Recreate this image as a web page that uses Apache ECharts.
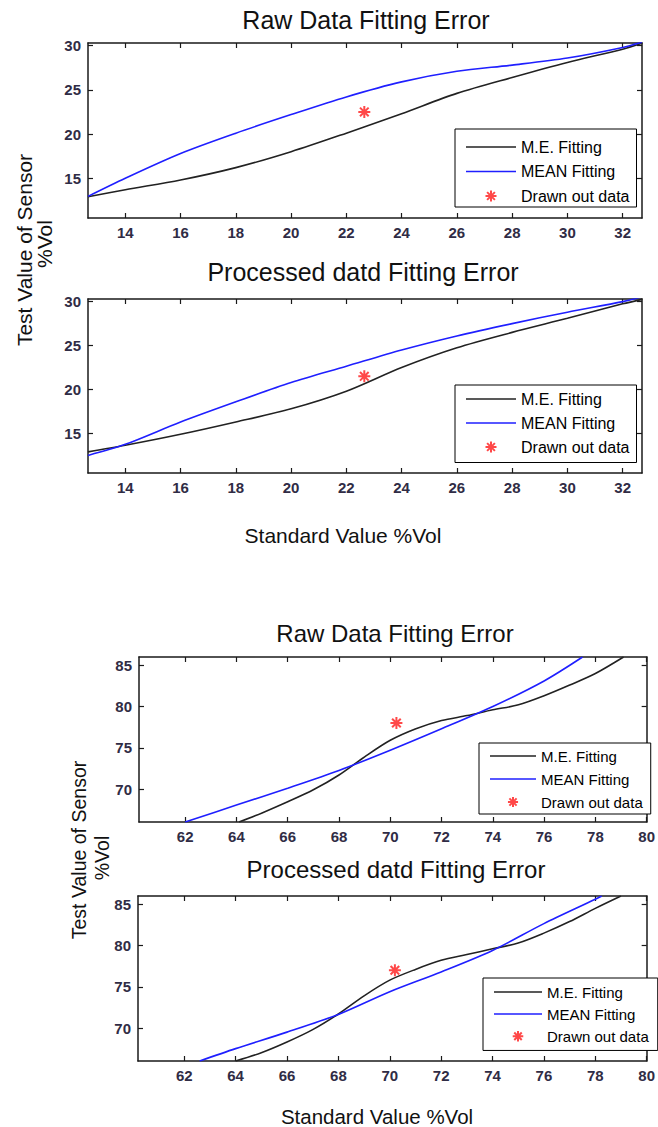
<!DOCTYPE html>
<html><head><meta charset="utf-8">
<script src="https://cdn.jsdelivr.net/npm/echarts@6/dist/echarts.min.js"></script>
<style>html,body{margin:0;padding:0;background:#fff}#c{width:658px;height:1127px}</style>
</head><body><div id="c"></div>
<script>
// ---- tick labels ----
const xTicksTop = [14, 16, 18, 20, 22, 24, 26, 28, 30, 32];
const yTicksTop = [15, 20, 25, 30];
const xTicksBottom = [62, 64, 66, 68, 70, 72, 74, 76, 78, 80];
const yTicksBottom = [70, 75, 80, 85];

// ---- series names ----
const seriesNames = ['M.E. Fitting', 'MEAN Fitting', 'Drawn out data'];

// ---- panel 1: Raw Data Fitting Error (upper) ----
const p1X = [12.65, 14, 16, 18, 20, 22, 24, 26, 28, 30, 32, 32.7];
const p1ME = [12.9, 13.7, 14.8, 16.2, 18.0, 20.1, 22.3, 24.6, 26.4, 28.1, 29.6, 30.26];
const p1MEAN = [12.95, 15.0, 17.8, 20.1, 22.2, 24.2, 25.9, 27.1, 27.8, 28.6, 29.8, 30.4];
const p1Drawn = [22.65, 22.5];

// ---- panel 2: Processed datd Fitting Error (upper) ----
const p2X = [12.65, 14, 16, 18, 20, 22, 24, 26, 28, 30, 32, 32.7];
const p2ME = [12.9, 13.65, 14.9, 16.3, 17.8, 19.8, 22.5, 24.75, 26.5, 28.1, 29.75, 30.26];
const p2MEAN = [12.5, 13.76, 16.3, 18.6, 20.8, 22.65, 24.5, 26.1, 27.5, 28.8, 30.0, 30.55];
const p2Drawn = [22.65, 21.5];

// ---- panel 3: Raw Data Fitting Error (lower) ----
const p3MEX = [64.1, 65, 66, 67, 68, 69, 70, 71, 72, 73, 74, 75, 76, 77, 78, 79.1];
const p3ME = [66.0, 67.1, 68.45, 69.9, 71.7, 73.9, 75.9, 77.3, 78.3, 78.9, 79.6, 80.2, 81.3, 82.6, 84.0, 86.0];
const p3MEANX = [62, 64, 66, 68, 70, 72, 74, 76, 77.5];
const p3MEAN = [66.0, 68.05, 70.1, 72.25, 74.7, 77.3, 80.0, 83.1, 86.0];
const p3Drawn = [70.24, 78.0];

// ---- panel 4: Processed datd Fitting Error (lower) ----
const p4MEX = [64.0, 65, 66, 67, 68, 69, 70, 71, 72, 73, 74, 75, 76, 77, 78, 79];
const p4ME = [66.0, 67.0, 68.3, 69.8, 71.7, 73.9, 75.8, 77.1, 78.2, 78.9, 79.6, 80.3, 81.5, 82.9, 84.5, 86.0];
const p4MEANX = [62.6, 64, 66, 68, 70, 72, 74, 76, 78, 78.25];
const p4MEAN = [66.0, 67.5, 69.5, 71.65, 74.4, 76.8, 79.4, 82.65, 85.6, 86.0];
const p4Drawn = [70.2, 77.0];

function pairs(xs, ys) { return xs.map((x, i) => [x, ys[i]]); }

const FONT = '"Liberation Sans", Arial, sans-serif';
const AXC = '#1a1a1a';
const ME_COLOR = '#222222';
const MEAN_COLOR = '#1f1fff';
const RED = '#ff1a1a';
const STAR = 'path://M0,-5L0,5M-5,0L5,0M-3.6,-3.6L3.6,3.6M-3.6,3.6L3.6,-3.6';
const STAR_ICON = 'path://M0,0M50,14M25,1.5L25,12.5M19.5,7L30.5,7M21.1,3.1L28.9,10.9M21.1,10.9L28.9,3.1';
const LINE_ICON = 'path://M0,0M50,14M0,7L50,7';

const grids = [
  { left: 88, top: 43, width: 554, height: 175 },
  { left: 88, top: 299, width: 554, height: 174 },
  { left: 139, top: 657, width: 513, height: 165 },
  { left: 138, top: 896, width: 514, height: 165 }
];
const ranges = [
  { x: [12.65, 32.7], y: [10.5, 30.3], xt: xTicksTop, yt: yTicksTop },
  { x: [12.65, 32.7], y: [10.5, 30.3], xt: xTicksTop, yt: yTicksTop },
  { x: [60.2, 80], y: [66, 86], xt: xTicksBottom, yt: yTicksBottom },
  { x: [60.2, 80], y: [66, 86], xt: xTicksBottom, yt: yTicksBottom }
];

function axis(g, range, ticks, pos, labels) {
  return {
    type: 'value', gridIndex: g, min: range[0], max: range[1], position: pos,
    axisLine: { show: true, onZero: false, lineStyle: { color: AXC, width: 1.5 } },
    axisTick: { show: true, inside: true, length: 5, customValues: ticks, lineStyle: { color: AXC, width: 1.2 } },
    axisLabel: { show: labels, customValues: ticks, margin: 7, fontSize: 15, fontWeight: 'bold', fontFamily: FONT, color: '#302c45' },
    splitLine: { show: false }
  };
}
const xAxes = [], yAxes = [];
ranges.forEach((r, g) => {
  xAxes.push(axis(g, r.x, r.xt, 'bottom', true));
  xAxes.push(axis(g, r.x, r.xt, 'top', false));
  yAxes.push(axis(g, r.y, r.yt, 'left', true));
  yAxes.push(axis(g, r.y, r.yt, 'right', false));
});

const panelData = [
  { me: pairs(p1X, p1ME), mean: pairs(p1X, p1MEAN), drawn: p1Drawn },
  { me: pairs(p2X, p2ME), mean: pairs(p2X, p2MEAN), drawn: p2Drawn },
  { me: pairs(p3MEX, p3ME), mean: pairs(p3MEANX, p3MEAN), drawn: p3Drawn },
  { me: pairs(p4MEX, p4ME), mean: pairs(p4MEANX, p4MEAN), drawn: p4Drawn }
];
const series = [];
panelData.forEach((p, g) => {
  series.push({ type: 'line', name: seriesNames[0], xAxisIndex: 2 * g, yAxisIndex: 2 * g, data: p.me,
    symbol: 'none', smooth: 0.3, lineStyle: { color: ME_COLOR, width: 1.6 }, itemStyle: { color: ME_COLOR }, z: 3 });
  series.push({ type: 'line', name: seriesNames[1], xAxisIndex: 2 * g, yAxisIndex: 2 * g, data: p.mean,
    symbol: 'none', smooth: 0.3, lineStyle: { color: MEAN_COLOR, width: 1.6 }, itemStyle: { color: MEAN_COLOR }, z: 3 });
  series.push({ type: 'scatter', name: seriesNames[2], xAxisIndex: 2 * g, yAxisIndex: 2 * g, data: [p.drawn],
    symbol: STAR, symbolSize: 12, itemStyle: { color: RED, borderColor: RED, borderWidth: 2 }, z: 4 });
});

function legendData() {
  return [
    { name: seriesNames[0], icon: LINE_ICON, itemStyle: { color: 'rgba(0,0,0,0)', borderColor: ME_COLOR, borderWidth: 1.5 } },
    { name: seriesNames[1], icon: LINE_ICON, itemStyle: { color: 'rgba(0,0,0,0)', borderColor: MEAN_COLOR, borderWidth: 1.5 } },
    { name: seriesNames[2], icon: STAR_ICON, itemStyle: { color: RED, borderColor: RED, borderWidth: 2 } }
  ];
}
function legend(o) {
  return Object.assign({
    data: legendData(), orient: 'vertical', selectedMode: false, itemHeight: 14,
    borderColor: '#000', borderWidth: 1, backgroundColor: '#fff', borderRadius: 0, z: 10
  }, o);
}
const legends = [
  legend({ left: 455, top: 129, itemWidth: 50, itemGap: 8.5, padding: [10, 7, 3, 10],
    textStyle: { fontSize: 16, fontFamily: FONT, color: '#000' } }),
  legend({ left: 455, top: 385, itemWidth: 50, itemGap: 8, padding: [6, 7, 7.5, 10],
    textStyle: { fontSize: 16, fontFamily: FONT, color: '#000' } }),
  legend({ left: 479, top: 743, itemWidth: 46, itemGap: 8, padding: [5.5, 8, 4.5, 10],
    textStyle: { fontSize: 15, fontFamily: FONT, color: '#000' } }),
  legend({ left: 483, top: 978, itemWidth: 48, itemGap: 7, padding: [6.5, 9, 6.5, 10],
    textStyle: { fontSize: 15, fontFamily: FONT, color: '#000' } })
];

function txt(x, y, text, size, rot) {
  return { type: 'text', x: x, y: y, rotation: rot || 0, z: 20,
    style: { text: text, font: size + 'px ' + FONT, fill: '#111', align: 'center', verticalAlign: 'middle',
      textAlign: 'center', textVerticalAlign: 'middle' } };
}
const texts = [
  txt(366, 20, 'Raw Data Fitting Error', 25),
  txt(363, 272, 'Processed datd Fitting Error', 25),
  txt(343, 535, 'Standard Value %Vol', 21),
  txt(24, 250, 'Test Value of Sensor', 21, Math.PI / 2),
  txt(44, 244, '%Vol', 21, Math.PI / 2),
  txt(395, 633, 'Raw Data Fitting Error', 24),
  txt(396, 869, 'Processed datd Fitting Error', 24),
  txt(377, 1116, 'Standard Value %Vol', 20.5),
  txt(79, 850, 'Test Value of Sensor', 19.5, Math.PI / 2),
  txt(102, 858, '%Vol', 19.5, Math.PI / 2)
];

const chart = echarts.init(document.getElementById('c'), null, { renderer: 'svg', width: 658, height: 1127 });
chart.setOption({
  animation: false,
  backgroundColor: '#fff',
  grid: grids,
  xAxis: xAxes,
  yAxis: yAxes,
  legend: legends,
  series: series,
  graphic: { elements: texts }
});
</script>
</body></html>
